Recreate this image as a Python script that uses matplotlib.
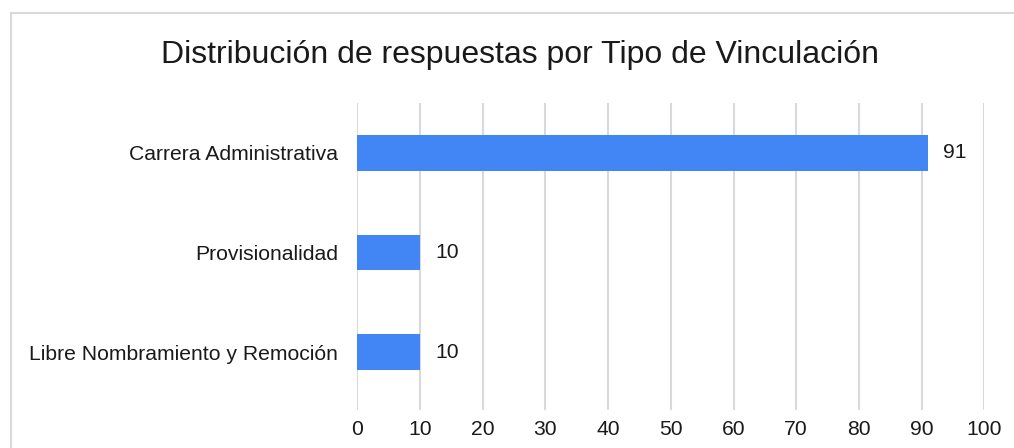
import matplotlib
matplotlib.use("Agg")
import matplotlib.pyplot as plt
from matplotlib.lines import Line2D

plt.rcParams["font.family"] = ["Liberation Sans", "DejaVu Sans"]

categories = ["Carrera Administrativa", "Provisionalidad", "Libre Nombramiento y Remoción"]
values = [91, 10, 10]
xticks = [0, 10, 20, 30, 40, 50, 60, 70, 80, 90, 100]
title = "Distribución de respuestas por Tipo de Vinculación"

BAR = "#4285f4"
GRID = "#d9d9d9"
TEXT = "#1a1a1a"

fig = plt.figure(figsize=(10.14, 4.48), dpi=100)
ax = fig.add_axes([357.3 / 1014, 38 / 448, (984.3 - 357.3) / 1014, (410 - 103) / 448])

ypos = list(range(len(categories)))
ax.barh(ypos, values, height=0.36, color=BAR, zorder=3)
for y, v in zip(ypos, values):
    ax.annotate(str(v), (v, y), xytext=(11, 0), textcoords="offset points",
                va="center", ha="left", fontsize=15.2, color=TEXT)

ax.set_xlim(0, 100)
ax.set_ylim(2.58, -0.5)
ax.set_xticks(xticks)
ax.set_yticks(ypos)
ax.set_yticklabels(categories)
ax.tick_params(axis="x", length=0, pad=7, labelsize=15.2, labelcolor=TEXT)
ax.tick_params(axis="y", length=0, pad=14, labelsize=15.2, labelcolor=TEXT)
ax.xaxis.grid(True, color=GRID, lw=1.5, zorder=0)
for s in ax.spines.values():
    s.set_visible(False)

fig.text(520 / 1014, 1 - 55 / 448, title, ha="center", va="center", fontsize=23, color=TEXT)

# light frame on top and left edge
fig.add_artist(Line2D([10.5 / 1014, 1.0], [1 - 13.5 / 448] * 2, transform=fig.transFigure, color=GRID, lw=1.5))
fig.add_artist(Line2D([10.5 / 1014] * 2, [0, 1 - 13.5 / 448], transform=fig.transFigure, color=GRID, lw=1.5))

fig.savefig("out.png", dpi=100)
